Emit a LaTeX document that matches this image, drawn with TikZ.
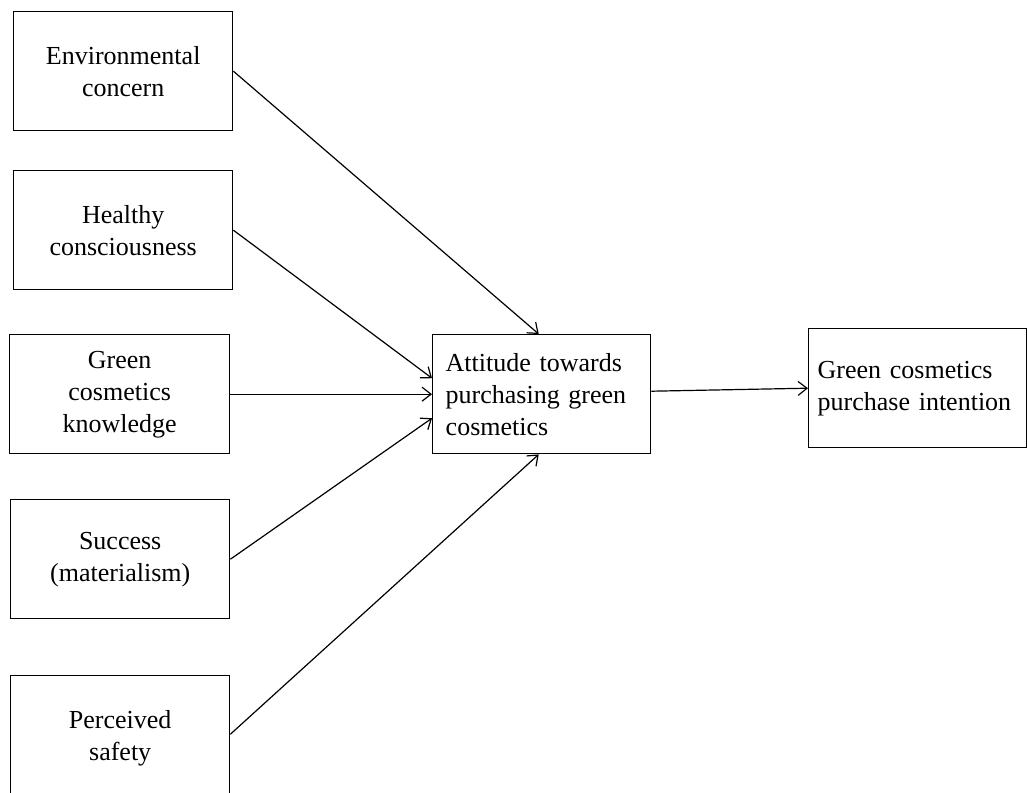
\documentclass[tikz,border=0pt]{standalone}
\usepackage{fontspec}
\setmainfont{Liberation Serif}
\usetikzlibrary{arrows.meta}
\begin{document}
\begin{tikzpicture}[x=1pt,y=-1pt,
  box/.style={draw, line width=1.4pt, rectangle, anchor=north west, inner sep=0pt,
    font=\fontsize{26}{32}\selectfont, text=black},
  cbox/.style={box, align=center, minimum width=219pt, minimum height=119pt},
  lbox/.style={box, align=left, minimum height=119pt},
  arr/.style={line width=1.2pt, -{Straight Barb[length=9pt,width=14pt,line width=1.2pt]}}
]
\useasboundingbox[fill=white] (0,0) rectangle (1027,792);
\clip (0,0) rectangle (1027,792);

\node[cbox] (env) at (13,11) {Environmental\\concern};
\node[cbox] (hc) at (13,170) {Healthy\\consciousness};
\node[cbox, minimum width=220pt] (gk) at (9,334) {Green\\cosmetics\\knowledge};
\node[cbox] (succ) at (10,499) {Success\\(materialism)};
\node[cbox, minimum height=125pt] (ps) at (10,675) {Perceived\\safety};

\node[lbox, text width=192pt, inner xsep=13pt] (att) at (432,334)
  {Attitude towards\\purchasing green\\cosmetics};
\node[lbox, text width=200pt, inner xsep=9pt] (int) at (808,328)
  {Green cosmetics\\purchase intention};

\draw[arr] (env.east) -- ([xshift=-3pt]att.north);
\draw[arr] (hc.east) -- ([yshift=16pt]att.west);
\draw[arr] (gk.east) -- (att.west);
\draw[arr] (succ.east) -- ([yshift=-24pt]att.west);
\draw[arr] ([yshift=4pt]ps.east) -- ([xshift=-3pt]att.south);
\draw[arr] ([yshift=3pt]att.east) -- (int.west);
\end{tikzpicture}
\end{document}
